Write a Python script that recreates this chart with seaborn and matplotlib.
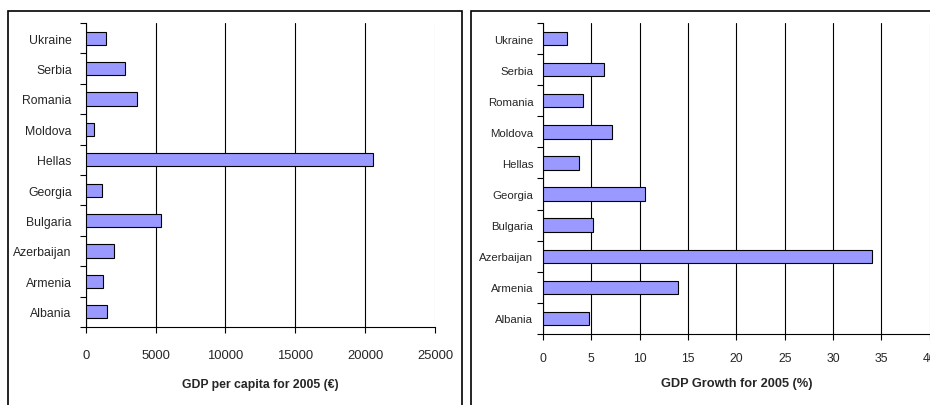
import matplotlib
matplotlib.use("Agg")
import matplotlib.pyplot as plt
import seaborn as sns
import pandas as pd
from matplotlib.patches import Rectangle
from matplotlib.ticker import FixedLocator

countries = ["Ukraine", "Serbia", "Romania", "Moldova", "Hellas",
             "Georgia", "Bulgaria", "Azerbaijan", "Armenia", "Albania"]
gdp_per_capita = [1430, 2810, 3640, 570, 20550, 1140, 5360, 2000, 1210, 1520]
gdp_growth = [2.45, 6.35, 4.15, 7.1, 3.75, 10.55, 5.2, 34.0, 14.0, 4.8]
left_ticks = [0, 5000, 10000, 15000, 20000, 25000]
right_ticks = [0, 5, 10, 15, 20, 25, 30, 35, 40]

sns.set_theme(style="white")
plt.rcParams['font.family'] = ['Liberation Sans Narrow', 'Liberation Sans', 'DejaVu Sans']

df = pd.DataFrame({"country": countries, "gdp": gdp_per_capita, "growth": gdp_growth})

fig = plt.figure(figsize=(9.3, 4.06), dpi=100)
W, H = 930, 406

def add_axes(l, r, t, b):
    return fig.add_axes([l / W, 1 - b / H, (r - l) / W, (b - t) / H])

ax1 = add_axes(85.7, 435, 24, 328)
ax2 = add_axes(543, 929.7, 24, 335)

def style(ax, col, ticks, xlabel, yfs, xfs, lfs, ypad, xpad, lpad):
    sns.barplot(data=df, x=col, y="country", order=countries, ax=ax,
                color="#9999FF", saturation=1, width=0.43,
                edgecolor="black", linewidth=0.8, zorder=3)
    ax.set_xlim(ticks[0], ticks[-1])
    ax.set_ylim(len(countries) - 0.5, -0.5)
    ax.set_xticks(ticks)
    ax.set_xticklabels([str(t) for t in ticks], fontsize=xfs)
    ax.xaxis.grid(True, color="black", linewidth=0.8, zorder=0)
    ax.get_xgridlines()[-1].set_color("#aaaaaa")
    ax.yaxis.grid(False)
    ax.set_axisbelow(True)
    for s in ["top", "right"]:
        ax.spines[s].set_visible(False)
    for s in ["left", "bottom"]:
        ax.spines[s].set_color("black")
        ax.spines[s].set_linewidth(0.8)
    ax.tick_params(axis="y", which="major", length=0, labelsize=yfs, pad=ypad)
    ax.yaxis.set_minor_locator(FixedLocator([i - 0.5 for i in range(len(countries) + 1)]))
    ax.tick_params(axis="y", which="minor", length=4, width=0.8, color="black", direction="out", left=True)
    ax.tick_params(axis="x", which="major", length=4, width=0.8, color="black", direction="out", bottom=True, pad=xpad)
    ax.set_ylabel("")
    ax.set_xlabel(xlabel, fontsize=lfs, fontweight="bold", labelpad=lpad)

style(ax1, "gdp", left_ticks, "GDP per capita for 2005 (€)", 8.8, 9.4, 8.8, 10, 12, 12)
style(ax2, "growth", right_ticks, "GDP Growth for 2005 (%)", 8.2, 8.8, 9.2, 7, 9, 9)

fig.patches.append(Rectangle((8 / W, -0.1), (462 - 8) / W, 1 + 0.1 - 12 / H,
                             transform=fig.transFigure, fill=False,
                             edgecolor="black", linewidth=1.2))
fig.patches.append(Rectangle((471 / W, -0.1), 0.6, 1 + 0.1 - 12 / H,
                             transform=fig.transFigure, fill=False,
                             edgecolor="black", linewidth=1.2))

fig.savefig("out.png", dpi=100, facecolor="white")
